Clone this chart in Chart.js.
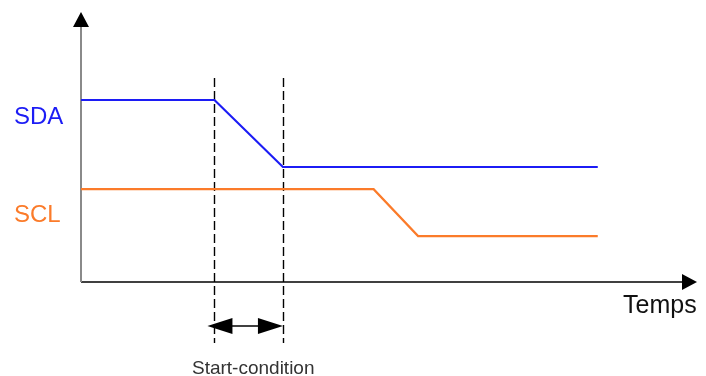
<!DOCTYPE html>
<html>
<head>
<meta charset="utf-8">
<script src="https://cdn.jsdelivr.net/npm/chart.js@4/dist/chart.umd.min.js"></script>
<style>
  body { margin: 0; background: #fff; }
  #wrap { width: 706px; height: 376px; }
</style>
</head>
<body>
<div id="wrap"><canvas id="myChart"></canvas></div>
<script>
// time points (arbitrary units) and signal levels
const sdaTime = [0, 7.8, 11.8, 30.2];
const sdaLevel = [6.74, 6.74, 4.26, 4.26];
const sclTime = [0, 17.1, 19.7, 30.2];
const sclLevel = [3.44, 3.44, 1.7, 1.7];
const startCondition = [7.8, 11.8];
const seriesLabels = ['SDA', 'SCL'];
const axisLabel = 'Temps';
const markerLabel = 'Start-condition';

const sdaColor = '#1c1cf5';
const sclColor = '#fb7b2a';

function toPoints(xs, ys) {
  return xs.map((x, i) => ({ x: x, y: ys[i] }));
}

function arrowHead(ctx, x, y, dir, len, half) {
  // dir: 'up', 'right', 'left'
  ctx.beginPath();
  if (dir === 'up') {
    ctx.moveTo(x, y); ctx.lineTo(x - half, y + len); ctx.lineTo(x + half, y + len);
  } else if (dir === 'right') {
    ctx.moveTo(x, y); ctx.lineTo(x - len, y - half); ctx.lineTo(x - len, y + half);
  } else {
    ctx.moveTo(x, y); ctx.lineTo(x + len, y - half); ctx.lineTo(x + len, y + half);
  }
  ctx.closePath();
  ctx.fill();
}

const diagram = {
  id: 'diagram',
  beforeDatasetsDraw(chart) {
    const ctx = chart.ctx;
    const xs = chart.scales.x, ys = chart.scales.y;
    const x0 = xs.getPixelForValue(0), y0 = ys.getPixelForValue(0);
    const a = chart.chartArea;
    ctx.save();
    // dashed markers
    ctx.strokeStyle = '#000';
    ctx.lineWidth = 1.4;
    ctx.setLineDash([9, 4]);
    startCondition.forEach(t => {
      const px = Math.round(xs.getPixelForValue(t)) + 0.5;
      ctx.beginPath();
      ctx.moveTo(px, 78);
      ctx.lineTo(px, 343);
      ctx.stroke();
    });
    ctx.setLineDash([]);
    // x axis
    ctx.strokeStyle = '#000';
    ctx.lineWidth = 1.5;
    ctx.beginPath();
    ctx.moveTo(x0, y0);
    ctx.lineTo(a.right - 12, y0);
    ctx.stroke();
    ctx.fillStyle = '#000';
    arrowHead(ctx, a.right, y0, 'right', 15, 8);
    // y axis
    ctx.strokeStyle = '#8a8a8a';
    ctx.lineWidth = 2;
    ctx.beginPath();
    ctx.moveTo(x0, y0);
    ctx.lineTo(x0, a.top + 14);
    ctx.stroke();
    arrowHead(ctx, x0, a.top, 'up', 15, 8);
    // double arrow for start condition
    const ax1 = xs.getPixelForValue(startCondition[0]) - 7;
    const ax2 = xs.getPixelForValue(startCondition[1]);
    const ay = 326;
    ctx.strokeStyle = '#000';
    ctx.lineWidth = 1.5;
    ctx.beginPath();
    ctx.moveTo(ax1 + 10, ay);
    ctx.lineTo(ax2 - 10, ay);
    ctx.stroke();
    arrowHead(ctx, ax1, ay, 'left', 25, 8);
    arrowHead(ctx, ax2, ay, 'right', 25, 8);
    // texts
    ctx.textBaseline = 'alphabetic';
    ctx.font = '24px "Liberation Sans", Arial, sans-serif';
    ctx.textAlign = 'left';
    ctx.fillStyle = sdaColor;
    ctx.fillText(seriesLabels[0], 14, 124);
    ctx.fillStyle = sclColor;
    ctx.fillText(seriesLabels[1], 14, 222);
    ctx.fillStyle = '#111';
    ctx.font = '25px "Liberation Sans", Arial, sans-serif';
    ctx.fillText(axisLabel, 623, 313);
    ctx.font = '19px "Liberation Sans", Arial, sans-serif';
    ctx.fillStyle = '#333';
    ctx.fillText(markerLabel, 192, 374);
    ctx.restore();
  }
};

const ctx = document.getElementById('myChart').getContext('2d');
const myChart = new Chart(ctx, {
  type: 'line',
  data: {
    datasets: [{
      label: seriesLabels[0],
      data: toPoints(sdaTime, sdaLevel),
      borderColor: sdaColor,
      borderWidth: 2.2,
      pointRadius: 0,
      tension: 0,
      fill: false
    }, {
      label: seriesLabels[1],
      data: toPoints(sclTime, sclLevel),
      borderColor: sclColor,
      borderWidth: 2.2,
      pointRadius: 0,
      tension: 0,
      fill: false
    }]
  },
  options: {
    responsive: true,
    maintainAspectRatio: false,
    animation: false,
    layout: { padding: { left: 81, right: 9, top: 12, bottom: 94 } },
    plugins: { legend: { display: false }, tooltip: { enabled: false } },
    scales: {
      x: { type: 'linear', min: 0, max: 36, display: false },
      y: { type: 'linear', min: 0, max: 10, display: false }
    }
  },
  plugins: [diagram]
});
</script>
</body>
</html>
